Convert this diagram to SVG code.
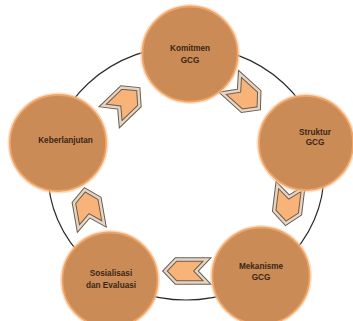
<svg xmlns="http://www.w3.org/2000/svg" xmlns:xlink="http://www.w3.org/1999/xlink" width="353" height="321" viewBox="0 0 353 321">
<style>
.halo{fill:#f7c79c;opacity:0.55}
.node{fill:#ca8b57;stroke:#efa465;stroke-width:1.8}
.lbl{font-family:"Liberation Sans",Arial,sans-serif;font-weight:bold;font-size:8.2px;fill:#3a2616;text-anchor:middle;dominant-baseline:central}
.ring{fill:none;stroke:#2b2b2b;stroke-width:1.2}
.arO{fill:#f7b378;stroke:#6e5c4c;stroke-width:4.4;stroke-linejoin:miter}
.arI{fill:none;stroke:#e4d6c6;stroke-width:2.4;stroke-linejoin:miter}
</style>
<defs>
<polygon id="chev" points="-21,-11.5 10,-11.5 21,0 10,11.5 -21,11.5 -10,0"/>
<polygon id="chev2" points="-18.5,-13 7.5,-13 18.5,0 7.5,13 -18.5,13 -8,0"/>
</defs>
<rect width="353" height="321" fill="#ffffff"/>
<g id="connectors">
<ellipse class="ring" cx="186" cy="173" rx="138" ry="127"/>
<g transform="translate(125,102) rotate(-44)"><use xlink:href="#chev2" class="arO"/><use xlink:href="#chev2" class="arI"/></g>
<g transform="translate(245,96) rotate(42)"><use xlink:href="#chev2" class="arO"/><use xlink:href="#chev2" class="arI"/></g>
<g transform="translate(288,205) rotate(97)"><use xlink:href="#chev2" class="arO"/><use xlink:href="#chev2" class="arI"/></g>
<g transform="translate(186,271) rotate(180)"><use xlink:href="#chev" class="arO"/><use xlink:href="#chev" class="arI"/></g>
<g transform="translate(88,208) rotate(-100)"><use xlink:href="#chev2" class="arO"/><use xlink:href="#chev2" class="arI"/></g>
</g>
<g id="komitmen">
<circle class="halo" cx="190" cy="54" r="50"/>
<circle class="node" cx="190" cy="54" r="47.5"/>
<text class="lbl" x="190" y="48">Komitmen</text>
<text class="lbl" x="190" y="60">GCG</text>
</g>
<g id="struktur">
<circle class="halo" cx="306" cy="143" r="49.5"/>
<circle class="node" cx="306" cy="143" r="47"/>
<text class="lbl" x="315" y="132.5">Struktur</text>
<text class="lbl" x="315" y="142.5">GCG</text>
</g>
<g id="mekanisme">
<circle class="halo" cx="261" cy="276" r="51"/>
<circle class="node" cx="261" cy="276" r="48.5"/>
<text class="lbl" x="261" y="266.5">Mekanisme</text>
<text class="lbl" x="261" y="277">GCG</text>
</g>
<g id="sosialisasi">
<circle class="halo" cx="110" cy="280" r="50"/>
<circle class="node" cx="110" cy="280" r="47.5"/>
<text class="lbl" x="111" y="273">Sosialisasi</text>
<text class="lbl" x="111" y="285.5">dan Evaluasi</text>
</g>
<g id="keberlanjutan">
<circle class="halo" cx="58" cy="143" r="50.5"/>
<circle class="node" cx="58" cy="143" r="48"/>
<text class="lbl" x="65.5" y="140">Keberlanjutan</text>
</g>
</svg>
